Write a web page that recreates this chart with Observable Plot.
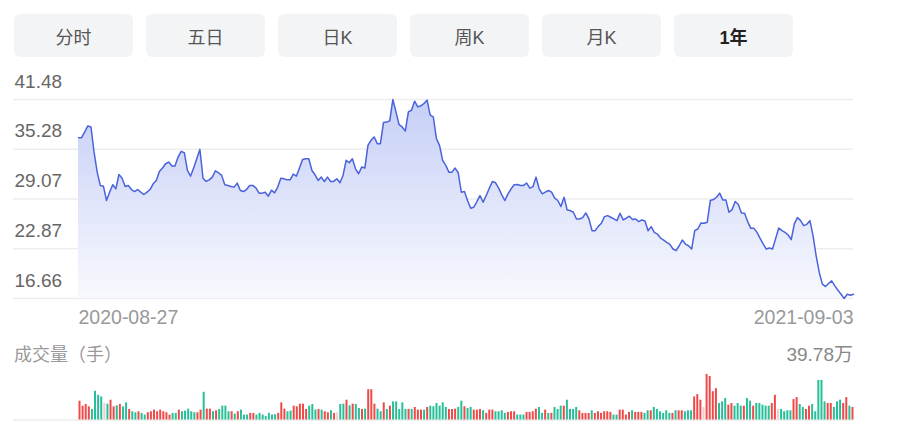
<!DOCTYPE html>
<html><head><meta charset="utf-8">
<script src="https://cdn.jsdelivr.net/npm/d3@7"></script>
<script src="https://cdn.jsdelivr.net/npm/@observablehq/plot@0.6"></script>
<style>
body{margin:0;background:#fff;}
#root{position:relative;width:909px;height:432px;overflow:hidden;font-family:"Liberation Sans",Arial,"Noto Sans CJK SC",sans-serif;}
.tab{position:absolute;top:14px;width:119px;height:43px;border-radius:6px;background:#f3f4f6;color:#555;font-size:18px;display:flex;align-items:center;justify-content:center;font-family:"Liberation Sans","Noto Sans CJK SC",sans-serif;}
.tab.on{font-weight:bold;color:#222;}
.lbl{position:absolute;line-height:20px;white-space:nowrap;}
.chart{position:absolute;left:0;}
</style></head><body><div id="root"></div>
<script>
const tabs = ["分时","五日","日K","周K","月K","1年"];
const activeTab = "1年";
const dateLabels = ["2020-08-27","2021-09-03"];
const yTickLabels = ["41.48","35.28","29.07","22.87","16.66"];
const volTitle = "成交量（手）";
const volUnit = "万";

const prices = [
36.72,36.72,37.43,38.18,38.06,34.93,32.42,30.76,30.67,28.88,
29.92,30.84,30.34,32.13,31.67,30.63,30.76,30.25,30.00,30.25,
29.92,29.63,29.92,30.25,30.96,31.38,32.51,32.93,33.47,33.68,
33.18,33.18,34.30,35.01,34.84,32.63,31.92,32.93,34.09,35.26,
31.67,31.26,31.46,31.80,32.59,32.34,32.01,30.84,30.76,30.63,
30.55,31.05,30.13,30.00,30.25,30.76,30.76,30.46,29.80,29.80,
29.92,29.42,30.17,29.84,30.55,31.67,31.59,31.46,31.46,32.17,
31.92,32.93,34.01,34.09,34.09,32.63,32.09,31.38,31.80,31.26,
31.80,31.26,31.26,31.59,31.09,
32.01,33.89,33.59,34.09,32.84,32.22,33.05,32.93,35.76,36.39,
36.81,35.97,35.97,38.60,38.68,38.81,41.48,39.94,38.35,38.06,
37.56,39.94,40.14,41.27,40.56,40.69,40.98,41.40,39.52,39.31,
36.60,35.76,33.89,33.26,32.42,32.42,32.93,32.34,29.92,30.00,
28.88,27.92,28.04,28.75,29.50,28.67,29.50,30.42,31.26,31.09,
30.42,29.59,28.88,29.71,30.34,30.84,30.88,30.76,30.76,31.05,
30.42,30.59,31.80,30.34,29.71,29.92,30.13,29.92,29.17,28.88,
28.13,29.29,27.71,27.63,27.42,26.58,26.58,26.75,27.33,26.58,
25.12,25.12,25.66,
26.04,26.87,27.00,26.79,26.58,26.37,27.29,26.46,26.67,26.92,
26.50,26.58,26.25,26.46,26.33,25.12,25.62,24.91,24.70,24.20,
23.95,23.66,23.41,22.83,22.62,23.24,23.95,23.45,23.24,22.83,
25.12,25.33,26.08,26.04,26.17,28.88,29.00,29.29,29.80,28.96,
28.96,27.42,27.75,28.75,28.38,27.33,27.29,26.25,25.41,25.41,
24.91,24.16,23.45,22.83,22.95,22.83,24.16,25.46,25.12,24.91,
24.58,24.00,25.96,26.75,26.37,25.75,25.91,26.37,24.50,21.99,
19.91,18.45,18.15,18.53,18.86,18.24,17.69,17.19,16.66,17.19,
17.07,17.19
];

// volume in 万手
const volumes = [
16.43,12.11,13.55,11.53,9.23,25.08,21.62,20.18,14.42,13.84,
17.30,11.53,12.40,13.55,11.53,14.99,9.23,7.21,6.34,7.21,
5.77,4.32,6.34,7.21,8.65,7.21,8.65,7.21,6.34,4.32,
5.77,5.77,8.65,7.21,7.78,9.51,7.21,6.34,6.34,8.65,
24.22,9.51,9.51,7.21,8.07,9.23,12.11,12.11,7.21,7.21,
5.19,7.21,8.65,4.32,4.32,5.77,5.77,4.32,5.77,4.32,
2.88,5.77,4.32,4.61,5.77,14.99,9.51,7.21,7.78,12.11,
11.53,13.84,13.84,9.23,12.11,13.55,8.65,9.23,8.65,7.21,
6.34,8.07,5.77,6.34,13.55,13.84,17.30,12.40,13.84,13.55,
10.09,9.23,9.51,26.52,26.52,13.84,9.51,7.21,14.99,9.23,
12.11,15.86,15.86,9.23,14.99,9.23,9.23,9.23,10.96,8.65,
8.65,8.65,10.96,12.11,11.53,14.42,12.11,14.99,10.96,9.23,
9.23,9.51,10.96,16.43,11.53,10.09,
10.96,8.65,8.65,9.23,8.07,5.77,8.65,8.65,7.21,7.21,
8.07,5.77,6.63,7.21,7.21,4.32,4.32,4.32,6.63,6.63,
7.21,9.51,10.96,5.77,8.65,5.77,5.77,10.96,9.23,12.11,
12.11,17.30,9.23,9.23,10.96,8.07,5.77,5.77,5.77,8.07,
5.77,7.21,5.77,7.21,7.21,6.63,4.32,4.32,8.65,8.65,
4.32,6.63,8.07,6.63,6.63,6.63,5.77,8.07,8.07,10.96,
9.23,7.21,5.77,8.07,5.77,5.77,8.07,8.07,8.07,7.21,
8.07,8.07,20.18,22.20,17.30,10.96,39.78,38.06,24.79,27.39,
14.42,15.86,18.74,12.97,14.42,12.11,14.42,12.11,12.11,18.74,
16.43,12.11,14.42,14.42,12.97,12.11,12.11,14.42,21.62,9.23,
9.23,7.21,8.07,8.07,17.87,19.60,13.55,10.96,9.23,12.11,
13.55,7.21,34.60,34.60,15.86,14.42,14.42,10.96,15.86,17.30,
14.42,19.60,12.11,10.96
];

// r = up, g = down, p = flat
const volDirections = (
"rrrrggggpg"+"rrgrggrggr"+"ggrrrrrrrr"+"ggrgggggrr"+"grrgrggggr"+
"grgggrrggg"+"ggggrrrggr"+"rrrrgggrgr"+"rgrpggrgrg"+"grgrrrggrg"+
"rgggggrgrr"+"rgrggggggr"+"rrggrg"+
"grrrgrrrgg"+"ggrrrgggrr"+"rrggrgrggg"+"rggggrrrrg"+"rrrrrrggrr"+
"rrgrrrggrg"+"gggggrgrrg"+"ggrrrprrrr"+"gggrrgggrg"+"grgggggrrp"+
"ggggrrggrr"+"gggggrrggg"+"rrgr"
).split("");

const colorOf = {r:"#ee4a4a", g:"#27bf98", p:"#f2cdcd"};
const font = '"Liberation Sans", Arial, "Noto Sans CJK SC", sans-serif';

const root = document.getElementById("root");

// tabs
tabs.forEach((t, i) => {
  const d = document.createElement("div");
  d.className = "tab" + (t === activeTab ? " on" : "");
  d.style.left = (14 + 132 * i) + "px";
  d.textContent = t;
  root.appendChild(d);
});

// price chart
const n = prices.length;
const pdata = prices.map((p, i) => ({i, p}));
const yMin = d3.min(prices), yMax = d3.max(prices);
const yTicks = yTickLabels.map(Number);

const priceSvg = Plot.plot({
  width: 909, height: 265,
  marginLeft: 13, marginRight: 56, marginTop: 29, marginBottom: 37,
  x: {domain: [0, n - 1], range: [78, 853], axis: null},
  y: {domain: [yMin, yMax], axis: null},
  style: {fontFamily: font, background: "transparent", overflow: "visible"},
  marks: [
    Plot.ruleY(yTicks, {stroke: "#ededed", strokeWidth: 1.5}),
    Plot.areaY(pdata, {x: "i", y1: yMin, y2: "p", fill: "url(#pgrad)"}),
    Plot.line(pdata, {x: "i", y: "p", stroke: "#4a63dc", strokeWidth: 1.5}),
    Plot.text(yTicks, {y: d => d, text: (d, i) => yTickLabels[i], frameAnchor: "left", textAnchor: "start", lineAnchor: "middle", dx: 1, dy: -18, fontSize: 19, fill: "#666"}),
    Plot.text([0], {x: d => d, text: () => dateLabels[0], frameAnchor: "bottom", textAnchor: "start", lineAnchor: "middle", dy: 19, fontSize: 19.5, fill: "#999"}),
    Plot.text([n - 1], {x: d => d, text: () => dateLabels[1], frameAnchor: "bottom", textAnchor: "end", lineAnchor: "middle", dy: 19, fontSize: 19.5, fill: "#999"})
  ]
});
const ns = "http://www.w3.org/2000/svg";
const defs = document.createElementNS(ns, "defs");
const lg = document.createElementNS(ns, "linearGradient");
lg.setAttribute("id", "pgrad");
lg.setAttribute("x1", "0"); lg.setAttribute("x2", "0");
lg.setAttribute("y1", "0"); lg.setAttribute("y2", "1");
[["0", "#c6cff6"], ["1", "#f8f9fe"]].forEach(([o, c]) => {
  const s = document.createElementNS(ns, "stop");
  s.setAttribute("offset", o); s.setAttribute("stop-color", c);
  lg.appendChild(s);
});
defs.appendChild(lg);
priceSvg.insertBefore(defs, priceSvg.firstChild);
priceSvg.classList.add("chart");
priceSvg.style.top = "70px";
root.appendChild(priceSvg);

// volume labels
const vMax = d3.max(volumes);
const t1 = document.createElement("div");
t1.className = "lbl";
t1.style.cssText = "left:14px;top:345px;font-size:18px;color:#999;";
t1.textContent = volTitle;
root.appendChild(t1);
const t2 = document.createElement("div");
t2.className = "lbl";
t2.style.cssText = "right:56px;top:345px;font-size:19px;color:#888;";
t2.textContent = vMax.toFixed(2) + volUnit;
root.appendChild(t2);

// volume chart
const m = volumes.length;
const vdata = volumes.map((v, i) => ({i, v, c: colorOf[volDirections[i]] || colorOf.g}));
const volSvg = Plot.plot({
  width: 909, height: 97,
  marginLeft: 13, marginRight: 56, marginTop: 39, marginBottom: 12.5,
  x: {domain: [0, m - 1], range: [79, 852], axis: null},
  y: {domain: [0, vMax], axis: null},
  color: {type: "identity"},
  style: {fontFamily: font, background: "transparent", overflow: "visible"},
  marks: [
    Plot.ruleY([0], {stroke: "#ededed", strokeWidth: 1.5}),
    Plot.ruleX(vdata, {x: "i", y1: 0, y2: "v", stroke: "c", strokeWidth: 2})
  ]
});
volSvg.classList.add("chart");
volSvg.style.top = "335px";
root.appendChild(volSvg);
</script>
</body></html>
